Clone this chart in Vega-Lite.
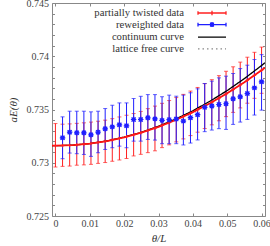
{
  "$schema": "https://vega.github.io/schema/vega-lite/v6.json",
  "width": 213,
  "height": 213,
  "autosize": "none",
  "padding": {"left": 52, "top": 3, "right": 5, "bottom": 30},
  "background": "white",
  "config": {
    "font": "Liberation Serif",
    "view": {"stroke": null},
    "axis": {
      "domainColor": "#888888",
      "domainWidth": 1,
      "tickColor": "#888888",
      "tickWidth": 1,
      "labelFont": "Liberation Serif",
      "labelFontSize": 10,
      "labelColor": "#444444",
      "titleFont": "Liberation Serif",
      "titleFontSize": 11,
      "titleFontStyle": "italic",
      "titleFontWeight": "normal",
      "titleColor": "#333333",
      "grid": false
    },
    "legend": {
      "orient": "none",
      "legendX": 154,
      "legendY": 4,
      "padding": 0,
      "symbolSize": 100,
      "symbolStrokeWidth": 1.3,
      "symbolOpacity": 1,
      "symbolFillColor": "transparent",
      "labelAlign": "right",
      "labelOffset": -34,
      "labelFont": "Liberation Serif",
      "labelFontSize": 10.7,
      "labelColor": "#333333",
      "rowPadding": 0.6
    }
  },
  "datasets": {
    "red": [
      {"x": 0, "y": 0.73162, "lo": 0.7296, "hi": 0.73368},
      {"x": 0.00207, "y": 0.73161, "lo": 0.72966, "hi": 0.73362},
      {"x": 0.00414, "y": 0.73163, "lo": 0.72969, "hi": 0.73365},
      {"x": 0.00621, "y": 0.73168, "lo": 0.72977, "hi": 0.7337},
      {"x": 0.00828, "y": 0.73173, "lo": 0.7298, "hi": 0.73375},
      {"x": 0.01034, "y": 0.73181, "lo": 0.72985, "hi": 0.73382},
      {"x": 0.01241, "y": 0.7319, "lo": 0.72994, "hi": 0.7339},
      {"x": 0.01448, "y": 0.73201, "lo": 0.73002, "hi": 0.734},
      {"x": 0.01655, "y": 0.73214, "lo": 0.73014, "hi": 0.73414},
      {"x": 0.01862, "y": 0.73228, "lo": 0.73026, "hi": 0.7343},
      {"x": 0.02069, "y": 0.73244, "lo": 0.7304, "hi": 0.73446},
      {"x": 0.02276, "y": 0.73262, "lo": 0.73064, "hi": 0.73462},
      {"x": 0.02483, "y": 0.73281, "lo": 0.73079, "hi": 0.73482},
      {"x": 0.0269, "y": 0.73303, "lo": 0.73095, "hi": 0.73508},
      {"x": 0.02897, "y": 0.73325, "lo": 0.73112, "hi": 0.73532},
      {"x": 0.03103, "y": 0.7335, "lo": 0.73142, "hi": 0.73558},
      {"x": 0.0331, "y": 0.73376, "lo": 0.73168, "hi": 0.73584},
      {"x": 0.03517, "y": 0.73404, "lo": 0.73196, "hi": 0.73612},
      {"x": 0.03724, "y": 0.73433, "lo": 0.73224, "hi": 0.73642},
      {"x": 0.03931, "y": 0.73464, "lo": 0.73255, "hi": 0.73673},
      {"x": 0.04138, "y": 0.73497, "lo": 0.73287, "hi": 0.73707},
      {"x": 0.04345, "y": 0.73532, "lo": 0.73321, "hi": 0.73743},
      {"x": 0.04552, "y": 0.73568, "lo": 0.73356, "hi": 0.7378},
      {"x": 0.04759, "y": 0.73606, "lo": 0.73394, "hi": 0.73818},
      {"x": 0.04966, "y": 0.73646, "lo": 0.73433, "hi": 0.73859},
      {"x": 0.05172, "y": 0.73687, "lo": 0.73473, "hi": 0.73901},
      {"x": 0.05379, "y": 0.7373, "lo": 0.73515, "hi": 0.73945},
      {"x": 0.05586, "y": 0.73775, "lo": 0.73559, "hi": 0.73991},
      {"x": 0.05793, "y": 0.73821, "lo": 0.73605, "hi": 0.74037},
      {"x": 0.06, "y": 0.73869, "lo": 0.73652, "hi": 0.74086}
    ],
    "blue": [
      {"x": 0.00207, "y": 0.73234, "lo": 0.73038, "hi": 0.73431},
      {"x": 0.00414, "y": 0.73287, "lo": 0.73091, "hi": 0.73484},
      {"x": 0.00621, "y": 0.73281, "lo": 0.73085, "hi": 0.73484},
      {"x": 0.00828, "y": 0.73281, "lo": 0.73078, "hi": 0.73484},
      {"x": 0.01034, "y": 0.73262, "lo": 0.7306, "hi": 0.73478},
      {"x": 0.01241, "y": 0.73287, "lo": 0.73094, "hi": 0.73484},
      {"x": 0.01448, "y": 0.73319, "lo": 0.73125, "hi": 0.73509},
      {"x": 0.01655, "y": 0.73337, "lo": 0.73141, "hi": 0.7354},
      {"x": 0.01862, "y": 0.73356, "lo": 0.73156, "hi": 0.73562},
      {"x": 0.02069, "y": 0.73347, "lo": 0.73141, "hi": 0.73562},
      {"x": 0.02276, "y": 0.73406, "lo": 0.73203, "hi": 0.73603},
      {"x": 0.02483, "y": 0.73406, "lo": 0.73203, "hi": 0.73624},
      {"x": 0.0269, "y": 0.73422, "lo": 0.73219, "hi": 0.7364},
      {"x": 0.02897, "y": 0.73412, "lo": 0.73213, "hi": 0.7364},
      {"x": 0.03103, "y": 0.73398, "lo": 0.73179, "hi": 0.7362},
      {"x": 0.0331, "y": 0.73404, "lo": 0.73179, "hi": 0.73635},
      {"x": 0.03517, "y": 0.7341, "lo": 0.73179, "hi": 0.73625},
      {"x": 0.03724, "y": 0.73391, "lo": 0.73167, "hi": 0.73635},
      {"x": 0.03931, "y": 0.73423, "lo": 0.73185, "hi": 0.73657},
      {"x": 0.04138, "y": 0.73451, "lo": 0.73214, "hi": 0.73694},
      {"x": 0.04345, "y": 0.7352, "lo": 0.73292, "hi": 0.73744},
      {"x": 0.04552, "y": 0.73532, "lo": 0.73307, "hi": 0.73766},
      {"x": 0.04759, "y": 0.73547, "lo": 0.7332, "hi": 0.73797},
      {"x": 0.04966, "y": 0.73554, "lo": 0.73313, "hi": 0.73813},
      {"x": 0.05172, "y": 0.736, "lo": 0.7336, "hi": 0.73838},
      {"x": 0.05379, "y": 0.73619, "lo": 0.73382, "hi": 0.73884},
      {"x": 0.05586, "y": 0.7365, "lo": 0.73407, "hi": 0.73916},
      {"x": 0.05793, "y": 0.73703, "lo": 0.73448, "hi": 0.73969},
      {"x": 0.06, "y": 0.7376, "lo": 0.73494, "hi": 0.74015}
    ],
    "curve": [
      {"x": -0.001, "free": 0.7316, "cont": 0.7316},
      {"x": 0, "free": 0.7316, "cont": 0.7316},
      {"x": 0.005, "free": 0.73165, "cont": 0.73165},
      {"x": 0.01, "free": 0.7318, "cont": 0.7318},
      {"x": 0.015, "free": 0.73204, "cont": 0.73205},
      {"x": 0.02, "free": 0.73239, "cont": 0.73241},
      {"x": 0.025, "free": 0.73283, "cont": 0.73286},
      {"x": 0.03, "free": 0.73337, "cont": 0.73343},
      {"x": 0.035, "free": 0.73401, "cont": 0.7341},
      {"x": 0.04, "free": 0.73475, "cont": 0.73488},
      {"x": 0.045, "free": 0.73559, "cont": 0.73578},
      {"x": 0.05, "free": 0.73653, "cont": 0.73678},
      {"x": 0.055, "free": 0.73756, "cont": 0.7379},
      {"x": 0.06, "free": 0.73869, "cont": 0.73913},
      {"x": 0.061, "free": 0.73893, "cont": 0.73939}
    ]
  },
  "resolve": {"axis": {"x": "independent", "y": "independent"}},
  "layer": [
    {
      "data": {"name": "red"},
      "mark": {"type": "rule", "color": "#ff2020", "strokeWidth": 1},
      "encoding": {
        "x": {"field": "x", "type": "quantitative", "scale": {"domain": [-0.001, 0.061], "nice": false, "zero": false},
              "axis": {"orient": "bottom", "values": [0, 0.01, 0.02, 0.03, 0.04, 0.05, 0.06], "format": ".2~f", "tickSize": -3, "labelPadding": 5, "title": "θ/L", "titlePadding": 4}},
        "y": {"field": "lo", "type": "quantitative", "scale": {"domain": [0.725, 0.745], "nice": false, "zero": false},
              "axis": {"orient": "left", "values": [0.725,0.726,0.727,0.728,0.729,0.73,0.731,0.732,0.733,0.734,0.735,0.736,0.737,0.738,0.739,0.74,0.741,0.742,0.743,0.744,0.745],
                       "labelExpr": "round(datum.value*1000) % 5 == 0 ? format(datum.value, '.3~f') : ''", "tickSize": -2.5, "labelPadding": 6, "title": "aE(θ)", "titlePadding": 8}},
        "y2": {"field": "hi"}
      }
    },
    {
      "data": {"name": "red"},
      "mark": {"type": "tick", "orient": "horizontal", "color": "#ff2020", "size": 4, "thickness": 1},
      "encoding": {
        "x": {"field": "x", "type": "quantitative",
              "axis": {"orient": "top", "values": [0, 0.01, 0.02, 0.03, 0.04, 0.05, 0.06], "labels": false, "tickSize": -3, "title": null}},
        "y": {"field": "lo", "type": "quantitative",
              "axis": {"orient": "right", "values": [0.725,0.726,0.727,0.728,0.729,0.73,0.731,0.732,0.733,0.734,0.735,0.736,0.737,0.738,0.739,0.74,0.741,0.742,0.743,0.744,0.745], "labels": false, "tickSize": -2.5, "title": null}}
      }
    },
    {
      "data": {"name": "red"},
      "mark": {"type": "tick", "orient": "horizontal", "color": "#ff2020", "size": 4, "thickness": 1},
      "encoding": {
        "x": {"field": "x", "type": "quantitative", "axis": null},
        "y": {"field": "hi", "type": "quantitative", "axis": null}
      }
    },
    {
      "data": {"name": "red"},
      "mark": {"type": "point", "filled": false, "opacity": 0, "size": 1},
      "encoding": {
        "x": {"field": "x", "type": "quantitative", "axis": null},
        "y": {"field": "y", "type": "quantitative", "axis": null},
        "color": {"datum": "partially twisted data", "title": null,
                  "scale": {"domain": ["partially twisted data", "reweighted data", "continuum curve", "lattice free curve"], "range": ["#ff2020", "#1f1fff", "#000000", "#888888"]}},
        "shape": {"datum": "partially twisted data", "title": null,
                  "scale": {"domain": ["partially twisted data", "reweighted data", "continuum curve", "lattice free curve"],
                            "range": ["M-2.8,0H2.8M-2.8,-0.36V0.36M2.8,-0.36V0.36M0,-0.45V0.45", "M-2.8,0H2.8M-2.8,-0.36V0.36M2.8,-0.36V0.36M-0.5,0H0.5M0,-0.5V0.5M-0.36,-0.36L0.36,0.36M-0.36,0.36L0.36,-0.36M-0.28,-0.28H0.28V0.28H-0.28Z", "M-2.8,0H2.8", "M-2.8,0H2.8"]}}
      }
    },
    {
      "data": {"name": "blue"},
      "mark": {"type": "point", "filled": false, "opacity": 0, "size": 1},
      "encoding": {
        "x": {"field": "x", "type": "quantitative", "axis": null},
        "y": {"field": "y", "type": "quantitative", "axis": null},
        "color": {"datum": "reweighted data", "title": null},
        "shape": {"datum": "reweighted data", "title": null}
      }
    },
    {
      "data": {"name": "blue"},
      "mark": {"type": "rule", "color": "#1f1fff", "strokeWidth": 1},
      "encoding": {
        "x": {"field": "x", "type": "quantitative", "axis": null},
        "y": {"field": "lo", "type": "quantitative", "axis": null},
        "y2": {"field": "hi"}
      }
    },
    {
      "data": {"name": "blue"},
      "mark": {"type": "tick", "orient": "horizontal", "color": "#1f1fff", "size": 4, "thickness": 1},
      "encoding": {
        "x": {"field": "x", "type": "quantitative", "axis": null},
        "y": {"field": "lo", "type": "quantitative", "axis": null}
      }
    },
    {
      "data": {"name": "blue"},
      "mark": {"type": "tick", "orient": "horizontal", "color": "#1f1fff", "size": 4, "thickness": 1},
      "encoding": {
        "x": {"field": "x", "type": "quantitative", "axis": null},
        "y": {"field": "hi", "type": "quantitative", "axis": null}
      }
    },
    {
      "data": {"name": "curve"},
      "mark": {"type": "line", "strokeWidth": 1, "clip": true},
      "encoding": {
        "x": {"field": "x", "type": "quantitative", "axis": null},
        "y": {"field": "free", "type": "quantitative", "axis": null},
        "color": {"datum": "lattice free curve", "title": null},
        "strokeDash": {"datum": "lattice free curve", "title": null,
                       "scale": {"domain": ["partially twisted data", "reweighted data", "continuum curve", "lattice free curve"], "range": [[1, 0], [1, 0], [1, 0], [1.5, 3]]}}
      }
    },
    {
      "data": {"name": "curve"},
      "mark": {"type": "line", "strokeWidth": 1.3, "clip": true},
      "encoding": {
        "x": {"field": "x", "type": "quantitative", "axis": null},
        "y": {"field": "cont", "type": "quantitative", "axis": null},
        "color": {"datum": "continuum curve", "title": null},
        "strokeDash": {"datum": "continuum curve", "title": null}
      }
    },
    {
      "data": {"name": "curve"},
      "mark": {"type": "line", "strokeWidth": 1.8, "color": "#ff1010", "clip": true},
      "encoding": {
        "x": {"field": "x", "type": "quantitative", "axis": null},
        "y": {"field": "free", "type": "quantitative", "axis": null}
      }
    },
    {
      "data": {"name": "red"},
      "mark": {"type": "point", "shape": "M-1,0H1M0,-1V1", "filled": false, "color": "#ff2020", "size": 12, "strokeWidth": 1, "opacity": 1},
      "encoding": {
        "x": {"field": "x", "type": "quantitative", "axis": null},
        "y": {"field": "y", "type": "quantitative", "axis": null}
      }
    },
    {
      "data": {"name": "blue"},
      "mark": {"type": "point", "shape": "M-1,0H1M0,-1V1M-0.75,-0.75L0.75,0.75M-0.75,0.75L0.75,-0.75M-0.5,-0.5H0.5V0.5H-0.5Z", "filled": false, "color": "#1f1fff", "size": 30, "strokeWidth": 1.2, "opacity": 1},
      "encoding": {
        "x": {"field": "x", "type": "quantitative", "axis": null},
        "y": {"field": "y", "type": "quantitative", "axis": null}
      }
    }
  ]
}
